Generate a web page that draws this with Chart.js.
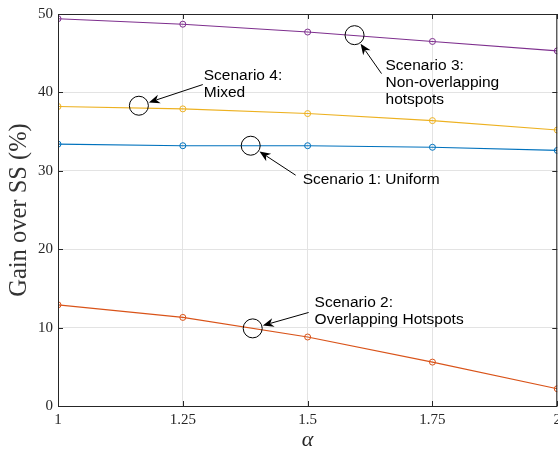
<!DOCTYPE html>
<html>
<head>
<meta charset="utf-8">
<script src="https://cdn.jsdelivr.net/npm/chart.js@4.4.1/dist/chart.umd.min.js"></script>
<style>
  html, body { margin: 0; padding: 0; background: #fff; overflow: hidden; }
  #wrap { width: 566px; height: 453px; }
</style>
</head>
<body>
<div id="wrap"><canvas id="grafico"></canvas></div>
<script>
// dados
const alphas = [1, 1.25, 1.5, 1.75, 2];
const cenario1 = [33.4, 33.2, 33.2, 33.0, 32.6];   // Uniform
const cenario2 = [12.9, 11.3, 8.8, 5.6, 2.2];      // Overlapping Hotspots
const cenario3 = [49.4, 48.7, 47.7, 46.5, 45.3];   // Non-overlapping hotspots
const cenario4 = [38.2, 37.9, 37.3, 36.4, 35.2];   // Mixed
const xTicks = [1, 1.25, 1.5, 1.75, 2];
const yTicks = [0, 10, 20, 30, 40, 50];

// anotacoes: circulo no ponto, cauda da seta e texto (em unidades dos eixos)
const anotacoes = [
  { circ: [1.162, 38.3], cauda: [1.29, 41.0], texto: [1.292, 42.1], linhas: ['Scenario 4:', 'Mixed'] },
  { circ: [1.594, 47.3], cauda: [1.648, 42.4], texto: [1.656, 43.4], linhas: ['Scenario 3:', 'Non-overlapping', 'hotspots'] },
  { circ: [1.386, 33.2], cauda: [1.476, 29.44], texto: [1.49, 28.8], linhas: ['Scenario 1: Uniform'] },
  { circ: [1.39, 9.9], cauda: [1.502, 11.93], texto: [1.514, 13.2], linhas: ['Scenario 2:', 'Overlapping Hotspots'] }
];

function serie(valores, cor) {
  return {
    data: alphas.map((a, i) => ({ x: a, y: valores[i] })),
    borderColor: cor,
    borderWidth: 1.1,
    pointRadius: 3,
    pointBorderWidth: 1,
    pointBorderColor: cor,
    pointBackgroundColor: 'rgba(0,0,0,0)',
    tension: 0
  };
}

const molduraPlugin = {
  id: 'moldura',
  afterDatasetsDraw(chart) {
    const ctx = chart.ctx;
    const a = chart.chartArea;
    const sx = chart.scales.x, sy = chart.scales.y;
    ctx.save();
    ctx.strokeStyle = '#262626';
    ctx.lineWidth = 1;
    ctx.strokeRect(a.left + 0.5, a.top + 0.5, a.right - a.left - 1, a.bottom - a.top);
    // ticks para dentro
    xTicks.forEach(t => {
      const px = Math.round(sx.getPixelForValue(t)) + 0.5;
      ctx.beginPath();
      ctx.moveTo(px, a.bottom); ctx.lineTo(px, a.bottom - 5);
      ctx.moveTo(px, a.top); ctx.lineTo(px, a.top + 5);
      ctx.stroke();
    });
    yTicks.forEach(t => {
      const py = Math.round(sy.getPixelForValue(t)) + 0.5;
      ctx.beginPath();
      ctx.moveTo(a.left, py); ctx.lineTo(a.left + 5, py);
      ctx.moveTo(a.right, py); ctx.lineTo(a.right - 5, py);
      ctx.stroke();
    });

    // anotacoes
    const r = 9.5;
    anotacoes.forEach(an => {
      const cx = sx.getPixelForValue(an.circ[0]), cy = sy.getPixelForValue(an.circ[1]);
      const tx = sx.getPixelForValue(an.cauda[0]), ty = sy.getPixelForValue(an.cauda[1]);
      ctx.strokeStyle = '#000';
      ctx.lineWidth = 1;
      ctx.beginPath();
      ctx.arc(cx, cy, r, 0, Math.PI * 2);
      ctx.stroke();
      const dx = tx - cx, dy = ty - cy;
      const d = Math.hypot(dx, dy);
      const ux = dx / d, uy = dy / d;
      const px = cx + ux * (r + 1), py = cy + uy * (r + 1);
      ctx.beginPath();
      ctx.moveTo(tx, ty); ctx.lineTo(px + ux * 8, py + uy * 8);
      ctx.stroke();
      // ponta da seta
      const L = 11, W = 4.5;
      const bx = px + ux * L, by = py + uy * L;
      ctx.fillStyle = '#000';
      ctx.beginPath();
      ctx.moveTo(px, py);
      ctx.lineTo(bx - uy * W, by + ux * W);
      ctx.lineTo(px + ux * L * 0.7, py + uy * L * 0.7);
      ctx.lineTo(bx + uy * W, by - ux * W);
      ctx.closePath();
      ctx.fill();
      // texto
      ctx.font = '15.5px "Liberation Sans", Arial, sans-serif';
      ctx.textAlign = 'left';
      ctx.textBaseline = 'middle';
      const lx = sx.getPixelForValue(an.texto[0]);
      const ly = sy.getPixelForValue(an.texto[1]);
      an.linhas.forEach((l, i) => ctx.fillText(l, lx, ly + i * 17));
    });
    ctx.restore();
  }
};

new Chart(document.getElementById('grafico'), {
  type: 'line',
  data: {
    datasets: [
      serie(cenario1, '#0072BD'),
      serie(cenario2, '#D95319'),
      serie(cenario4, '#EDB120'),
      serie(cenario3, '#7E2F8E')
    ]
  },
  options: {
    responsive: true,
    maintainAspectRatio: false,
    animation: false,
    layout: { padding: { top: 12, right: 7, left: 0, bottom: 0 } },
    plugins: { legend: { display: false }, tooltip: { enabled: false } },
    scales: {
      x: {
        type: 'linear',
        min: 1, max: 2,
        afterBuildTicks: s => { s.ticks = xTicks.map(v => ({ value: v })); },
        afterFit: s => { s.height = 47; },
        grid: { color: '#e3e3e3', lineWidth: 1, drawTicks: false },
        border: { display: false },
        ticks: {
          color: '#262626',
          padding: 5,
          maxRotation: 0,
          font: { family: '"Liberation Serif", serif', size: 15 },
          callback: v => String(v)
        },
        title: {
          display: true, text: 'α', color: '#262626', padding: { top: 0, bottom: 0 },
          font: { family: '"Liberation Serif", serif', size: 22, style: 'italic' }
        }
      },
      y: {
        min: 0, max: 50,
        afterBuildTicks: s => { s.ticks = yTicks.map(v => ({ value: v })); },
        afterFit: s => { s.width = 58; },
        grid: { color: '#e3e3e3', lineWidth: 1, drawTicks: false },
        border: { display: false },
        ticks: {
          color: '#262626',
          padding: 5,
          font: { family: '"Liberation Serif", serif', size: 15 }
        },
        title: {
          display: true, text: 'Gain over SS (%)', color: '#333333', padding: { top: 5, bottom: 0 },
          font: { family: '"Liberation Serif", serif', size: 24.5 }
        }
      }
    }
  },
  plugins: [molduraPlugin]
});
</script>
</body>
</html>
